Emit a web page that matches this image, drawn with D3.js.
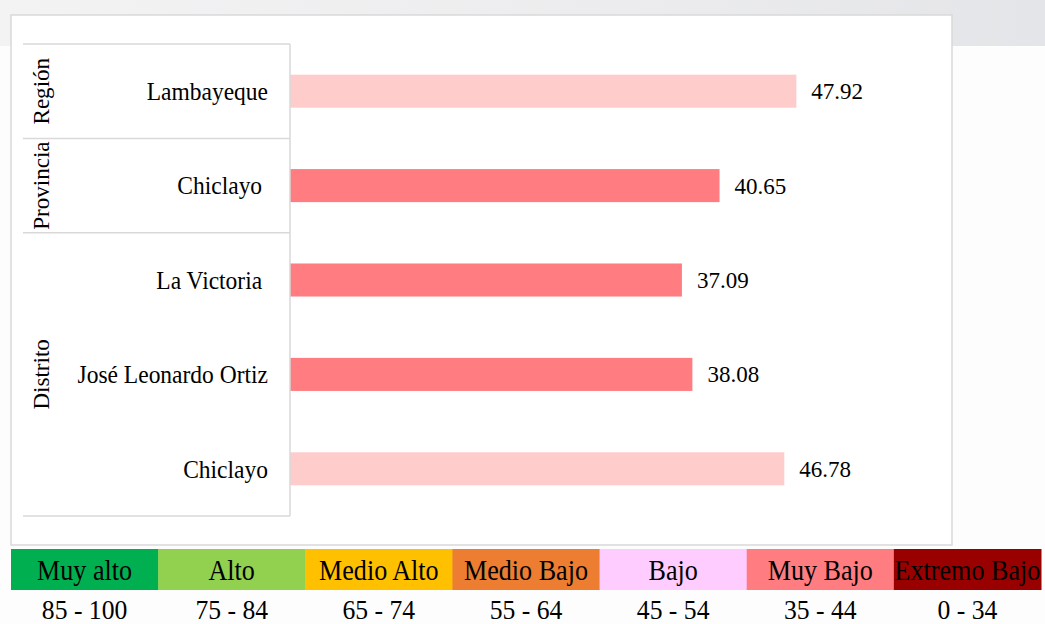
<!DOCTYPE html>
<html>
<head>
<meta charset="utf-8">
<script src="https://cdn.jsdelivr.net/npm/d3@7"></script>
<style>
  body { margin: 0; background: #fdfdfd; }
</style>
</head>
<body>
<div id="chart"></div>
<script>
// data
const categories = ["Lambayeque", "Chiclayo ", "La Victoria ", "José Leonardo Ortiz", "Chiclayo"];
const groups = ["Región", "Provincia", "Distrito", "Distrito", "Distrito"];
const values = [47.92, 40.65, 37.09, 38.08, 46.78];
const levelNames = ["Muy alto", "Alto", "Medio Alto", "Medio Bajo", "Bajo", "Muy Bajo", "Extremo Bajo"];
const levelRanges = ["85 - 100", "75 - 84", "65 - 74", "55 - 64", "45 - 54", "35 - 44", "0 - 34"];
const levelMin = [85, 75, 65, 55, 45, 35, 0];
const levelColors = ["#00b050", "#92d050", "#ffc000", "#ed7d31", "#ffccff", "#ff7c80", "#990000"];

function barColor(v) {
    // bars use a lighter pink for "Bajo"
    if (v >= 45 && v < 55) return "#ffcccc";
    let i = levelMin.findIndex(m => v >= m);
    return levelColors[i];
}

let serif = "'Liberation Serif', 'Times New Roman', Times, 'DejaVu Serif', serif";
let dim = { width: 1045, height: 624 };
let svg = d3.select("#chart").append("svg")
    .attr("width", dim.width)
    .attr("height", dim.height)
    .attr("font-family", serif)
    .style("font-family", serif);

// faded background band at the top
let defs = svg.append("defs");
let grad = defs.append("linearGradient").attr("id", "bg").attr("x1", 0).attr("x2", 1);
grad.append("stop").attr("offset", "0%").attr("stop-color", "#f3f3f4");
grad.append("stop").attr("offset", "60%").attr("stop-color", "#ececee");
grad.append("stop").attr("offset", "100%").attr("stop-color", "#e4e5e8");
svg.append("rect").attr("x", 0).attr("y", 0).attr("width", dim.width).attr("height", 46)
    .attr("fill", "url(#bg)");

// chart frame
svg.append("rect")
    .attr("x", 11).attr("y", 15).attr("width", 941).attr("height", 530)
    .attr("fill", "#fff").attr("stroke", "#d9d9d9").attr("stroke-width", 1.5);

let x = d3.scaleLinear().domain([0, 60]).range([290, 924]);
let y = d3.scaleBand().domain(d3.range(categories.length)).range([44, 516]).paddingInner(0.65).paddingOuter(0.325);
let yb = d3.scaleBand().domain(d3.range(categories.length)).range([44, 516]);

let g = svg.append("g");

// bars
g.selectAll("rect.bar")
    .data(values)
    .join("rect")
    .attr("class", "bar")
    .attr("x", x(0))
    .attr("y", (d, i) => y(i))
    .attr("width", d => x(d) - x(0))
    .attr("height", y.bandwidth())
    .attr("fill", d => barColor(d));

// value labels
g.selectAll("text.val")
    .data(values)
    .join("text")
    .attr("class", "val")
    .attr("x", d => x(d) + 15)
    .attr("y", (d, i) => y(i) + y.bandwidth() / 2)
    .attr("dy", "0.35em")
    .attr("font-size", 23)
    .text(d => d.toFixed(2));

// category labels (slightly narrowed like the original)
g.selectAll("text.cat")
    .data(categories)
    .join("text")
    .attr("class", "cat")
    .attr("transform", (d, i) => `translate(268,${yb(i) + yb.bandwidth() / 2}) scale(0.94,1)`)
    .attr("dy", "0.35em")
    .attr("text-anchor", "end")
    .attr("font-size", 25)
    .style("white-space", "pre")
    .text(d => d);

// group spans
let spans = [];
groups.forEach((gr, i) => {
    let last = spans[spans.length - 1];
    if (last && last.name == gr) last.end = i;
    else spans.push({ name: gr, start: i, end: i });
});

let lineColor = "#d9d9d9";
g.append("line")
    .attr("x1", x(0)).attr("x2", x(0))
    .attr("y1", yb.range()[0]).attr("y2", yb.range()[1])
    .attr("stroke", lineColor).attr("stroke-width", 1.5);

let bounds = [yb(0)].concat(spans.map(s => yb(s.end) + yb.bandwidth()));
g.selectAll("line.sep")
    .data(bounds)
    .join("line")
    .attr("class", "sep")
    .attr("x1", 23).attr("x2", x(0))
    .attr("y1", d => d).attr("y2", d => d)
    .attr("stroke", lineColor).attr("stroke-width", 1.5);

g.selectAll("text.grp")
    .data(spans)
    .join("text")
    .attr("class", "grp")
    .attr("font-size", 24)
    .attr("text-anchor", "middle")
    .attr("transform", d => {
        let cy = (yb(d.start) + yb(d.end) + yb.bandwidth()) / 2;
        return `translate(49,${cy}) rotate(-90) scale(0.96,1)`;
    })
    .text(d => d.name);

// legend
let lx = d3.scaleBand().domain(levelNames).range([11, 1041]);
let legend = svg.append("g");
legend.selectAll("rect")
    .data(levelNames)
    .join("rect")
    .attr("x", d => lx(d))
    .attr("y", 549)
    .attr("width", lx.bandwidth() + 0.5)
    .attr("height", 41)
    .attr("fill", (d, i) => levelColors[i]);

legend.selectAll("text.name")
    .data(levelNames)
    .join("text")
    .attr("class", "name")
    .attr("transform", d => `translate(${lx(d) + lx.bandwidth() / 2},580) scale(0.9,1)`)
    .attr("text-anchor", "middle")
    .attr("font-size", 29)
    .text(d => d);

legend.selectAll("text.range")
    .data(levelRanges)
    .join("text")
    .attr("class", "range")
    .attr("transform", (d, i) => `translate(${lx(levelNames[i]) + lx.bandwidth() / 2},619) scale(0.95,1)`)
    .attr("text-anchor", "middle")
    .attr("font-size", 27)
    .text(d => d);
</script>
</body>
</html>
